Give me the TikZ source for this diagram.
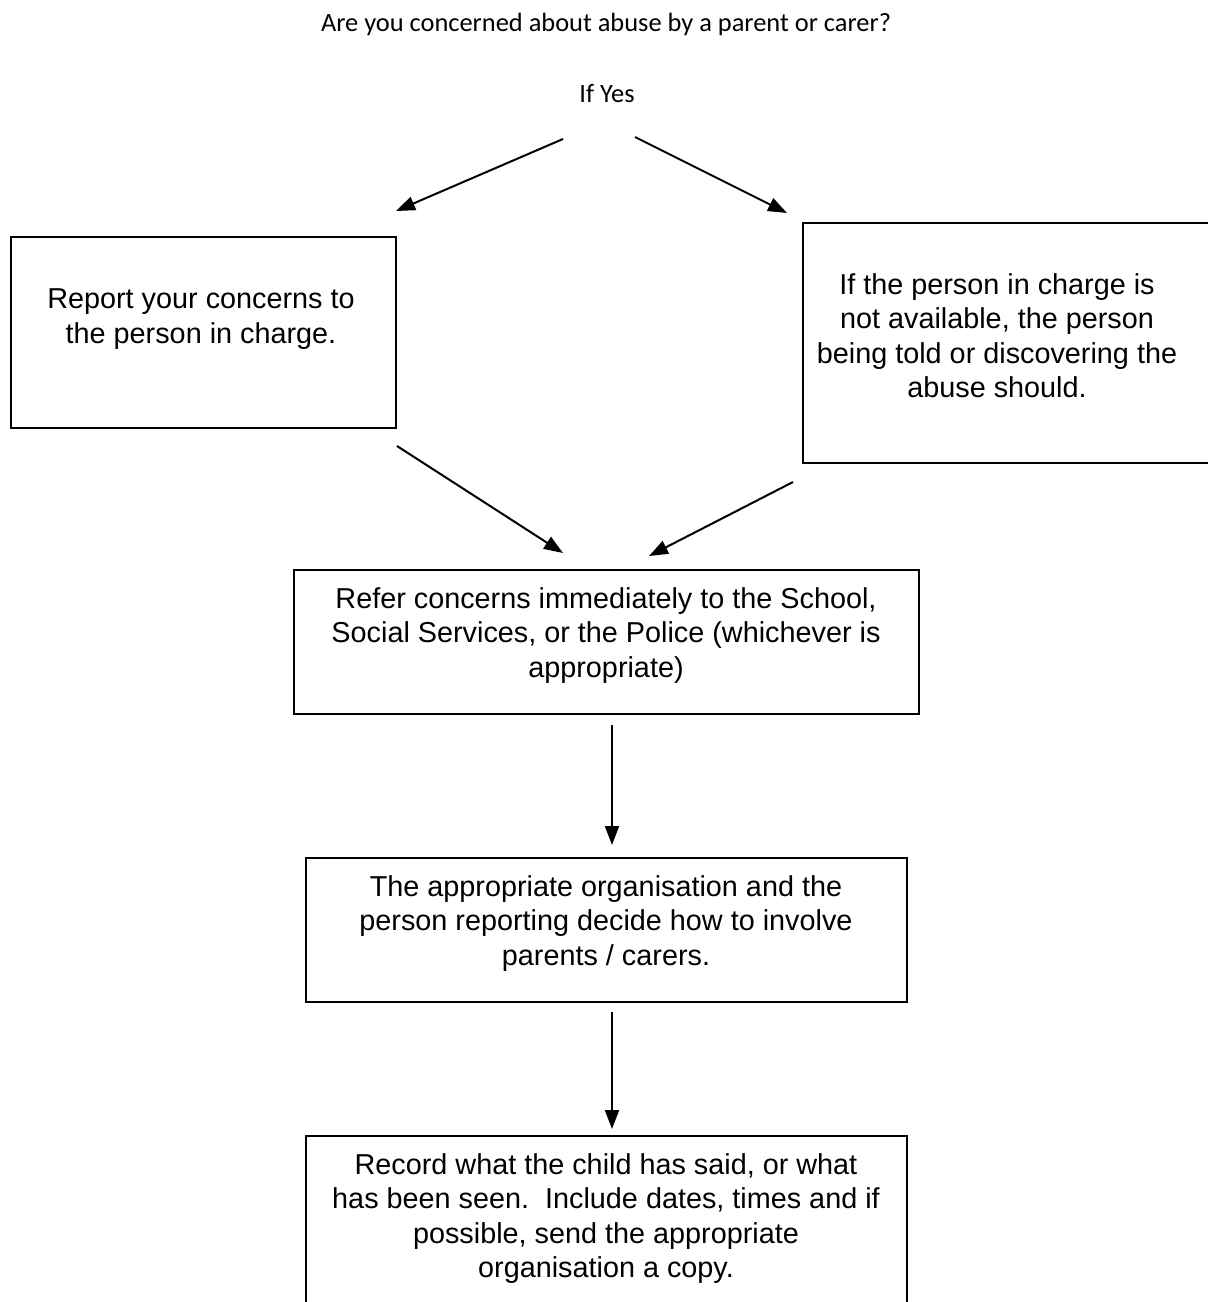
\documentclass[tikz,border=0pt]{standalone}
\usepackage{fontspec}
\setmainfont{Liberation Sans}
\newfontfamily\calib{Carlito}
\usetikzlibrary{arrows.meta}
\begin{document}
\begin{tikzpicture}[x=1pt,y=-1pt,
  box/.style={draw=black, line width=2pt, rectangle, inner sep=0pt, anchor=north west},
  boxtext/.style={anchor=north, inner sep=0pt, align=center, font=\fontsize{28.8}{34.5}\selectfont},
  headtext/.style={anchor=base, inner sep=0pt, font=\calib\fontsize{26.4}{31}\selectfont},
  conn/.style={line width=2pt, -{Triangle[length=19pt,width=14pt]}}]
\useasboundingbox (0,0) rectangle (1208,1302);
\clip (0,0) rectangle (1208,1302);
\fill[white] (0,0) rectangle (1208,1302);

\node[headtext] (title) at (606,31) {Are you concerned about abuse by a parent or carer?};
\node[headtext] (ifyes) at (607,102) {If Yes};

\node[box, minimum width=385pt, minimum height=191pt] (left) at (10,236) {};
\node[box, minimum width=420pt, minimum height=240pt] (right) at (802,222) {};
\node[box, minimum width=625pt, minimum height=144pt] (refer) at (293,569) {};
\node[box, minimum width=601pt, minimum height=144pt] (decide) at (305,857) {};
\node[box, minimum width=601pt, minimum height=200pt] (record) at (305,1135) {};

\node[boxtext] (lefttxt) at (201,288.5) {Report your concerns to\\the person in charge.};
\node[boxtext] (righttxt) at (997,273) {If the person in charge is\\not available, the person\\being told or discovering the\\abuse should.};
\node[boxtext] (refertxt) at (606,587) {Refer concerns immediately to the School,\\Social Services, or the Police (whichever is\\appropriate)};
\node[boxtext] (decidetxt) at (606,875) {The appropriate organisation and the\\person reporting decide how to involve\\parents / carers.};
\node[boxtext] (recordtxt) at (606,1153) {Record what the child has said, or what\\has been seen.\ \ Include dates, times and if\\possible, send the appropriate\\organisation a copy.};

\coordinate (a1s) at (563,139);
\coordinate (a1e) at (396,211);
\coordinate (a2s) at (635,137);
\coordinate (a2e) at (787,213);
\coordinate (a3s) at (397,446);
\coordinate (a3e) at (563,553);
\coordinate (a4s) at (793,482);
\coordinate (a4e) at (649,556);
\coordinate (a5s) at (612,725);
\coordinate (a5e) at (612,845);
\coordinate (a6s) at (612,1012);
\coordinate (a6e) at (612,1129);

\draw[conn] (a1s) -- (a1e);
\draw[conn] (a2s) -- (a2e);
\draw[conn] (a3s) -- (a3e);
\draw[conn] (a4s) -- (a4e);
\draw[conn] (a5s) -- (a5e);
\draw[conn] (a6s) -- (a6e);
\end{tikzpicture}
\end{document}
